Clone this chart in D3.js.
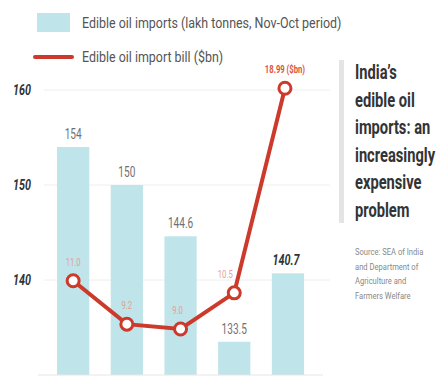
<!DOCTYPE html>
<html>
<head>
<meta charset="utf-8">
<script src="https://cdn.jsdelivr.net/npm/d3@7"></script>
<style>
  body { margin: 0; background: #fff; }
  svg { display: block; font-family: "Roboto", "Liberation Sans", sans-serif; }
</style>
</head>
<body>
<script>
var years = ["2016-17", "2017-18", "2018-19", "2019-20", "2020-21"];
var imports = [154, 150, 144.6, 133.5, 140.7];
var importLabels = ["154", "150", "144.6", "133.5", "140.7"];
var bill = [11.0, 9.2, 9.0, 10.5, 18.99];
var billLabels = ["11.0", "9.2", "9.0", "10.5", "18.99 ($bn)"];
var yTicks = [140, 150, 160];
var titleLines = ["India\u2019s", "edible oil", "imports: an", "increasingly", "expensive", "problem"];
var sourceLines = ["Source: SEA of India", "and Department of", "Agriculture and", "Farmers Welfare"];

var W = 436, H = 381;
var barColor = "#bfe4e9", red = "#cc3a2c";

// narrow text: squeeze horizontally around its anchor point
function narrow(parent, tx, ty, sx) {
  return parent.append("g")
    .attr("transform", "translate(" + tx + "," + ty + ") scale(" + sx + ",1)")
    .append("text").attr("x", 0).attr("y", 0);
}

function main() {
  var svg = d3.select("body").append("svg").attr("width", W).attr("height", H);

  var x = d3.scaleBand().domain(years).range([46.3, 314.8])
    .paddingInner(0.4).paddingOuter(0.2);
  var y = d3.scaleLinear().domain([130, 160]).range([375, 90]);
  var yBill = d3.scaleLinear().domain([9, 19]).range([329, 88]);

  // legend
  svg.append("rect").attr("x", 37).attr("y", 13).attr("width", 33).attr("height", 19)
    .attr("fill", barColor);
  narrow(svg, 82, 28, 0.83).attr("font-size", 15).attr("fill", "#555")
    .text("Edible oil imports (lakh tonnes, Nov-Oct period)");
  svg.append("line").attr("x1", 35).attr("x2", 72).attr("y1", 57).attr("y2", 57)
    .attr("stroke", red).attr("stroke-width", 4).attr("stroke-linecap", "round");
  narrow(svg, 82, 62, 0.83).attr("font-size", 15).attr("fill", "#555")
    .text("Edible oil import bill ($bn)");

  // gridlines
  svg.append("g").selectAll("line").data(yTicks).enter().append("line")
    .attr("x1", 44).attr("x2", 330)
    .attr("y1", function(d) { return y(d); }).attr("y2", function(d) { return y(d); })
    .attr("stroke", "#eee").attr("stroke-width", 1);

  yTicks.forEach(function(d) {
    narrow(svg, 31, y(d) + 5, 0.72)
      .attr("text-anchor", "end").attr("font-size", 15).attr("font-weight", "bold")
      .attr("font-style", "italic").attr("fill", "#2e3438")
      .text(d);
  });

  // bars
  svg.append("g").selectAll("rect").data(imports).enter().append("rect")
    .attr("x", function(d, i) { return x(years[i]); })
    .attr("y", function(d) { return y(d); })
    .attr("width", x.bandwidth())
    .attr("height", function(d) { return y(130) - y(d); })
    .attr("fill", barColor);

  svg.append("line").attr("x1", 38).attr("x2", 323).attr("y1", 375).attr("y2", 375)
    .attr("stroke", "#e6e6e6").attr("stroke-width", 1);

  imports.forEach(function(d, i) {
    var last = i == 4;
    narrow(svg, x(years[i]) + x.bandwidth() / 2 + (last ? -2 : 0), y(d) - 8, 0.72)
      .attr("text-anchor", "middle").attr("font-size", last ? 15 : 14)
      .attr("fill", last ? "#2e3438" : "#707070")
      .attr("font-weight", last ? "bold" : "normal")
      .attr("font-style", last ? "italic" : "normal")
      .text(importLabels[i]);
  });

  // bill line
  var cx = function(d, i) { return x(years[i]) + x.bandwidth() / 2 - (i == 4 ? 3 : 0); };
  var line = d3.line().x(cx).y(function(d) { return yBill(d); });
  svg.append("path").datum(bill).attr("d", line)
    .attr("fill", "none").attr("stroke", red).attr("stroke-width", 4);

  svg.append("g").selectAll("circle").data(bill).enter().append("circle")
    .attr("cx", cx).attr("cy", function(d) { return yBill(d); }).attr("r", 6)
    .attr("fill", "#fff").attr("stroke", red).attr("stroke-width", 3);

  bill.forEach(function(d, i) {
    var last = i == 4;
    narrow(svg, cx(d, i) - (i == 3 ? 9 : i == 2 ? 3 : 0), yBill(d) - 15, 0.7)
      .attr("text-anchor", "middle").attr("font-size", 11)
      .attr("font-weight", last ? "bold" : "normal")
      .attr("fill", last ? "#d9553f" : "#e3a097")
      .text(billLabels[i]);
  });

  // side title
  svg.append("rect").attr("x", 339).attr("y", 60).attr("width", 5).attr("height", 163)
    .attr("fill", "#e4e4e4");
  titleLines.forEach(function(d, i) {
    narrow(svg, 355, 79 + i * 27.6, 0.7)
      .attr("font-size", 21).attr("font-weight", "bold").attr("fill", "#333")
      .text(d);
  });

  sourceLines.forEach(function(d, i) {
    narrow(svg, 355, 255 + i * 14.5, 0.8)
      .attr("font-size", 9.5).attr("fill", "#888")
      .text(d);
  });
}
main();
</script>
</body>
</html>
